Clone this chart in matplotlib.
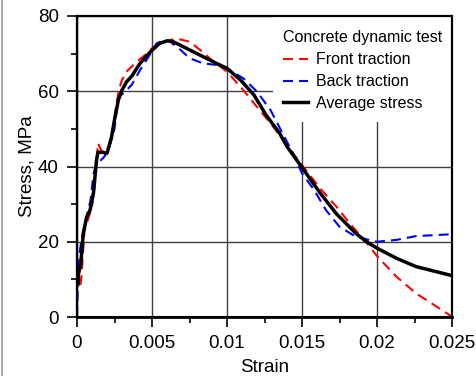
import numpy as np
import matplotlib
matplotlib.use("Agg")
import matplotlib.pyplot as plt
from matplotlib.lines import Line2D
from matplotlib.patches import Rectangle
from matplotlib.ticker import MultipleLocator

plt.rcParams['font.family'] = ['Liberation Sans', 'DejaVu Sans']

# ---- data ----
front_strain = [0, 0.0001, 0.0002, 0.0003, 0.0004, 0.0005, 0.001, 0.0012, 0.0013, 0.0014,
                0.00165, 0.002, 0.0022, 0.0024, 0.0026, 0.0028, 0.003, 0.0033, 0.004, 0.0045,
                0.0051, 0.0058, 0.0066, 0.0075, 0.0082, 0.0091, 0.01, 0.0109, 0.0118, 0.0129,
                0.0144, 0.015, 0.0162, 0.0173, 0.0182, 0.0193, 0.02, 0.0213, 0.0226, 0.024, 0.025]
front_stress = [16, 12, 8, 10.7, 17, 23, 29.3, 35.6, 41.7, 46.2,
                44, 44, 46, 50, 56, 60.5, 63, 65.2, 67.9, 69.5,
                71.8, 73.2, 74, 73.2, 71, 67.9, 65.2, 61.2, 56.8, 51.5,
                43.5, 40.4, 34.2, 29.3, 24.8, 19.8, 16.2, 10.7, 6.3, 2.7, 0.1]

back_strain = [0, 0.00005, 0.0001, 0.0003, 0.0006, 0.0009, 0.0011, 0.0013, 0.0015, 0.0018,
               0.0021, 0.0025, 0.00276, 0.0031, 0.00365, 0.0042, 0.0049, 0.0053, 0.0058, 0.0062,
               0.0069, 0.0075, 0.0084, 0.0093, 0.0102, 0.0111, 0.012, 0.0129, 0.0144, 0.015,
               0.0158, 0.0166, 0.0175, 0.0186, 0.02, 0.0213, 0.0226, 0.025]
back_stress = [0, 8, 15, 20.5, 26, 31, 38, 41, 41.3, 42.5,
               44.4, 50, 58.5, 59.5, 61.7, 65.6, 70, 72.7, 73.6, 73.2,
               71, 68.8, 67.4, 67, 65.6, 63.4, 59.9, 55, 43.5, 38.2,
               33.8, 28.4, 24, 21.3, 20, 20.5, 21.5, 22]

avg_strain = [0, 0.00005, 0.0001, 0.00025, 0.00042, 0.00065, 0.00087, 0.0011, 0.0013, 0.0014,
              0.00165, 0.002, 0.0023, 0.0025, 0.00276, 0.003, 0.0033, 0.00365, 0.0042, 0.0049,
              0.0055, 0.006, 0.0064, 0.0071, 0.0082, 0.0093, 0.01, 0.0109, 0.0118, 0.0126,
              0.0135, 0.014, 0.0149, 0.0162, 0.0173, 0.0186, 0.0193, 0.02, 0.0213, 0.0226, 0.025]
avg_stress = [10.5, 8.5, 11.5, 14, 22.3, 26.6, 28.4, 33, 41.7, 43.8,
              43.8, 43.5, 47.8, 52.4, 57.7, 60.3, 62.5, 64, 67.4, 70.5,
              72.7, 73.4, 73.2, 71.8, 69.6, 67.4, 66.1, 63, 59, 53.7,
              48.9, 45.3, 40.3, 33, 27.4, 22.2, 20, 18.3, 15.6, 13.4, 11]

x_ticks = [0, 0.005, 0.01, 0.015, 0.02, 0.025]
x_labels = ["0", "0.005", "0.01", "0.015", "0.02", "0.025"]
y_ticks = [0, 20, 40, 60, 80]

#____________________________________________________________________________
fig = plt.figure(figsize=(4.76, 3.76), dpi=100)
ax_pos = [77/476, 59/376, 375/476, 301/376]
ax = fig.add_axes(ax_pos)

ax.plot(front_strain, front_stress, color='red', lw=1.5, ls=(0, (4.8, 2.9)), label='Front traction', zorder=3)
ax.plot(back_strain, back_stress, color='#0000ff', lw=1.5, ls=(0, (4.8, 2.9)), label='Back traction', zorder=3)
ax.plot(avg_strain, avg_stress, color='black', lw=2.5, label='Average stress', zorder=4)

ax.set_xlim(0, 0.025)
ax.set_ylim(0, 80)
ax.set_xticks(x_ticks)
ax.set_xticklabels(x_labels)
ax.set_yticks(y_ticks)
ax.xaxis.set_minor_locator(MultipleLocator(0.0025))
ax.yaxis.set_minor_locator(MultipleLocator(10))
ax.tick_params(which='major', direction='out', length=7, width=1.2, labelsize=13.5, pad=6)
ax.tick_params(which='minor', direction='out', length=4, width=1.2)
ax.tick_params(axis='x', which='major', pad=6)

ax.grid(True, which='major', color='#404040', lw=1)
ax.set_axisbelow(True)

for s in ax.spines.values():
    s.set_color('black')
    s.set_linewidth(1.5)
ax.spines['bottom'].set_linewidth(2)
ax.spines['left'].set_linewidth(1.6)

ax.set_xlabel("Strain", fontsize=13.5, labelpad=5)
ax.set_ylabel("Stress, MPa", fontsize=13.5, labelpad=1.5)

# white box behind the legend hides the grid there
ax.add_patch(Rectangle((0.523, 0.648), 0.474, 0.348, transform=ax.transAxes,
                       facecolor='white', edgecolor='none', zorder=0.9))

leg = ax.legend(handles=ax.lines[:3], loc='upper left', bbox_to_anchor=(0.549, 0.952),
                title='Concrete dynamic test', fontsize=11.5, title_fontsize=11.5,
                alignment='left', borderaxespad=0, borderpad=0, handlelength=1.6,
                handletextpad=0.5, labelspacing=0.43, frameon=False)
leg.set_zorder(5)

# frame outline drawn at figure level, on top of the axes
fig.add_artist(Rectangle((ax_pos[0], ax_pos[1]), ax_pos[2], ax_pos[3], transform=fig.transFigure,
                         fill=False, edgecolor='black', lw=1.5, zorder=20))

# thin gray border on the left edge of the picture
fig.add_artist(Line2D([0.004, 0.004], [0, 1], color='#999999', lw=1.2, transform=fig.transFigure))

fig.savefig("out.png", dpi=100)
